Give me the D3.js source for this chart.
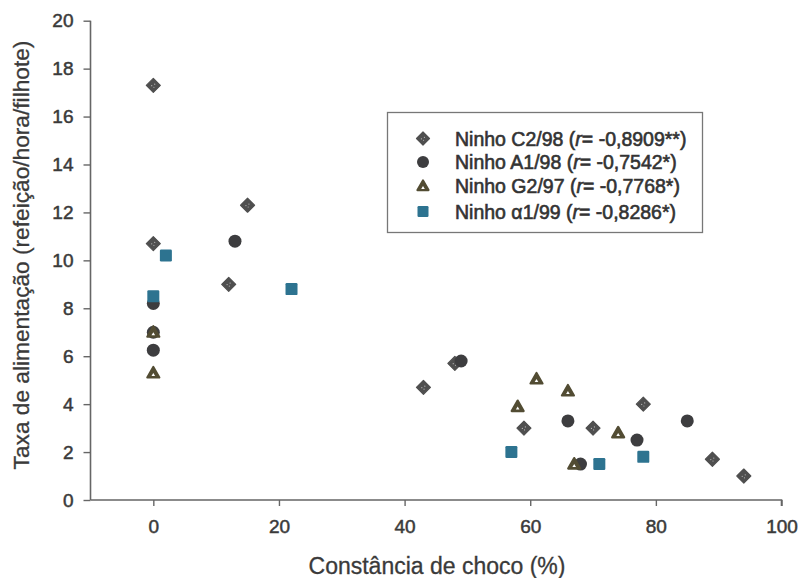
<!DOCTYPE html>
<html><head><meta charset="utf-8">
<script src="https://cdn.jsdelivr.net/npm/d3@7"></script>
<style>body{margin:0;background:#fff;} svg{display:block;font-family:"Liberation Sans",Arial,sans-serif;}</style>
</head><body>
<script>
// Data
const c2_98 = [[0,17.3],[15,12.3],[0,10.7],[12,9.0],[43,4.7],[48,5.7],[59,3.0],[70,3.0],[78,4.0],[89,1.7],[94,1.0]];
const a1_98 = [[13,10.8],[0,8.2],[0,7.0],[0,6.25],[49,5.8],[66,3.3],[77,2.5],[85,3.3],[68,1.5]];
const g2_97 = [[0,7.0],[0,5.3],[61,5.05],[66,4.55],[58,3.9],[74,2.8],[67,1.5]];
const a1_99 = [[2,10.2],[22,8.8],[0,8.5],[57,2.0],[71,1.5],[78,1.8]];
const seriesNames = ["Ninho C2/98", "Ninho A1/98", "Ninho G2/97", "Ninho \u03b11/99"];
const seriesR = ["-0,8909**", "-0,7542*", "-0,7768*", "-0,8286*"];
const xTicks = [0,20,40,60,80,100];
const yTicks = [0,2,4,6,8,10,12,14,16,18,20];
const xTitle = "Constância de choco (%)";
const yTitle = "Taxa de alimentação (refeição/hora/filhote)";

const W=798,H=578;
const svg=d3.select("body").append("svg").attr("width",W).attr("height",H);
const x=d3.scaleLinear().domain([-10,100]).range([90.5,781.5]);
const y=d3.scaleLinear().domain([0,20]).range([500,20.7]);

const axColor="#666", txtColor="#3a3a3a";
const gx=svg.append("g").attr("transform","translate(0,500)")
  .call(d3.axisBottom(x).tickValues(xTicks).tickSize(6).tickPadding(14).tickFormat(d3.format("d")));
const gy=svg.append("g").attr("transform","translate(90.5,0)")
  .call(d3.axisLeft(y).tickValues(yTicks).tickSize(7).tickPadding(10).tickFormat(d3.format("d")));
[gx,gy].forEach(g=>{
  g.select(".domain").attr("stroke",axColor).attr("stroke-width",1.6);
  g.selectAll(".tick line").attr("stroke",axColor).attr("stroke-width",1.4);
  g.selectAll(".tick text").attr("fill",txtColor).attr("stroke",txtColor).attr("stroke-width",0.5)
    .style("font-size","19px").style("font-family","Liberation Sans, Arial, sans-serif");
});
gy.select(".domain").attr("d","M0,500V20.7");
gx.select(".domain").attr("d","M90.5,0H781.5V6");

svg.append("text").attr("x",437).attr("y",574).attr("text-anchor","middle")
  .attr("fill",txtColor).attr("stroke",txtColor).attr("stroke-width",0.3).style("font-size","23px").text(xTitle);
svg.append("text").attr("transform","translate(29,255) rotate(-90)").attr("text-anchor","middle")
  .attr("fill",txtColor).attr("stroke",txtColor).attr("stroke-width",0.3).style("font-size","22.7px").text(yTitle);

// marker drawers
function diamond(g,cx,cy,s){
  g.append("path").attr("d",`M${cx},${cy-s}L${cx+s},${cy}L${cx},${cy+s}L${cx-s},${cy}Z`).attr("fill","#4f4f4f").attr("stroke","#4f4f4f").attr("stroke-width",1.2).attr("stroke-linejoin","round");
  g.append("circle").attr("cx",cx-1.6).attr("cy",cy+0.3).attr("r",0.6).attr("fill","#bbb");
  g.append("circle").attr("cx",cx+1.4).attr("cy",cy-1.2).attr("r",0.6).attr("fill","#bbb");
  g.append("circle").attr("cx",cx+0.6).attr("cy",cy+1.8).attr("r",0.55).attr("fill","#bbb");
}
function circ(g,cx,cy,r){ g.append("circle").attr("cx",cx).attr("cy",cy).attr("r",r).attr("fill","#3d3d3f"); }
function tri(g,cx,cy,s){
  const h=s*1.0;
  g.append("path").attr("d",`M${cx},${cy-h}L${cx+s},${cy+h*0.75}L${cx-s},${cy+h*0.75}Z`).attr("fill","#524c33").attr("stroke","#524c33").attr("stroke-width",2.2).attr("stroke-linejoin","round");
  g.append("path").attr("d",`M${cx},${cy}L${cx+1.8},${cy+3}L${cx-1.8},${cy+3}Z`).attr("fill","#fff");
}
function sq(g,cx,cy,s){ g.append("rect").attr("x",cx-s).attr("y",cy-s).attr("width",2*s).attr("height",2*s).attr("rx",1.2).attr("fill","#2d7390"); }

const gp=svg.append("g");
c2_98.forEach(d=>diamond(gp,x(d[0]),y(d[1]),7));
a1_98.forEach(d=>circ(gp,x(d[0]),y(d[1]),6.5));
g2_97.forEach(d=>tri(gp,x(d[0]),y(d[1]),6));
a1_99.forEach(d=>sq(gp,x(d[0]),y(d[1]),6));

// legend
const lg=svg.append("g");
lg.append("rect").attr("x",387.5).attr("y",112.5).attr("width",315).attr("height",120).attr("fill","#fff").attr("stroke","#777").attr("stroke-width",1.3);
const rows=[138.5,162,186,211.5];
const drawers=[(g,cx,cy)=>diamond(g,cx,cy,6.5),(g,cx,cy)=>circ(g,cx,cy,6),(g,cx,cy)=>tri(g,cx,cy,5.5),(g,cx,cy)=>sq(g,cx,cy,5.5)];
seriesNames.forEach((n,i)=>{
  drawers[i](lg,423,rows[i]);
  const t=lg.append("text").attr("x",455).attr("y",rows[i]+7).attr("fill","#333").attr("stroke","#333").attr("stroke-width",0.6).style("font-size","19.5px");
  t.append("tspan").text(n+" (");
  t.append("tspan").style("font-style","italic").text("r");
  t.append("tspan").text("= "+seriesR[i]+")");
});
</script>
</body></html>
